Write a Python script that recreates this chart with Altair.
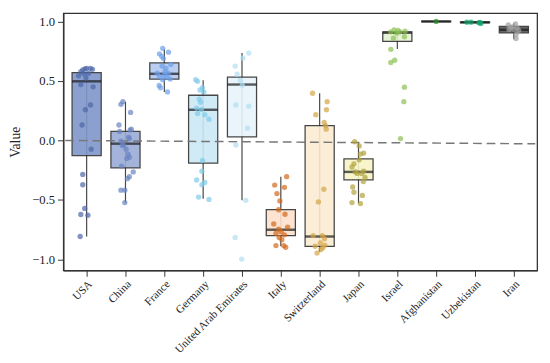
import altair as alt
import pandas as pd

countries = ["USA", "China", "France", "Germany", "United Arab Emirates", "Italy",
             "Switzerland", "Japan", "Israel", "Afghanistan", "Uzbekistan", "Iran"]

# box statistics
q1 = [-0.128, -0.231, 0.516, -0.190, 0.030, -0.799, -0.889, -0.332, 0.832, 0.998, 0.989, 0.904]
median = [0.497, -0.027, 0.560, 0.258, 0.470, -0.750, -0.807, -0.264, 0.905, 1.0, 0.993, 0.930]
q3 = [0.570, 0.076, 0.652, 0.380, 0.533, -0.582, 0.125, -0.155, 0.912, 1.002, 0.996, 0.958]
whisker_low = [-0.807, -0.522, 0.408, -0.489, -0.503, -0.889, -0.938, -0.530, 0.769, 1.0, 0.99, 0.850]
whisker_high = [0.570, 0.326, 0.769, 0.505, 0.734, -0.304, 0.397, -0.019, 0.912, 1.0, 0.995, 0.985]

box_fill = ["#7f96c9", "#9aabd6", "#b3c9f0", "#cce9f5", "#e7f4fb", "#fde0cc",
            "#fbecd2", "#f8f5c8", "#e4f2d2", "#cfe8c0", "#c0e8d8", "#555555"]
point_color = ["#4d66a6", "#6a83c2", "#6d9fea", "#7fcbea", "#b0def2", "#d2691e",
               "#d4a546", "#b0a23c", "#8cc152", "#2e8b2e", "#13a36b", "#a0a0a0"]

usa_values = [0.543, 0.579, 0.592, 0.601, 0.606, 0.606, 0.598, 0.565, 0.560, 0.524, 0.470,
              0.451, 0.299, 0.258, 0.130, -0.073, -0.285, -0.372, -0.571, -0.622, -0.628, -0.807]
usa_offsets = [-8.3, -6, -4, -1.7, 0, 4, 6, 2, -2.7, -0.7, -6, 6.7, 4, -1.3, -4.7, 4.7,
               -4, -4, -2, -6, 1.3, -6.7]
china_values = [0.326, 0.304, 0.236, 0.130, 0.087, 0.076, 0.095, 0.027, -0.005, -0.038, -0.043,
                0.016, -0.073, -0.114, -0.141, -0.152, -0.215, -0.264, -0.304, -0.321, -0.418,
                -0.418, -0.522]
china_offsets = [-2.7, -4.7, 5.3, -6.7, 4.7, -6, 6, 3.3, -4.7, -2, -3.3, 4, 0.7, 2.7, 4, 1.3,
                 -4, 8, 4, 2, -4.7, -0.7, -0.7]
france_values = [0.774, 0.742, 0.728, 0.707, 0.688, 0.639, 0.625, 0.606, 0.565, 0.579, 0.565,
                 0.552, 0.533, 0.538, 0.516, 0.511, 0.462, 0.443, 0.408]
france_offsets = [-1.7, 4.3, -5, -2.7, -1, 6.7, -2.3, 1.7, -7.3, 0.7, 4, 0, 2.7, -5, 6, -1.7,
                  -5.3, -4, 3.3]
germany_values = [0.511, 0.497, 0.443, 0.424, 0.408, 0.348, 0.321, 0.272, 0.261, 0.226, 0.217,
                  0.179, -0.168, -0.258, -0.332, -0.353, -0.372, -0.476, -0.495]
germany_offsets = [-7.7, -5.7, -0.7, -3.3, 0.7, -4, -2.7, -6.7, -1.7, -5.7, 1.7, 6, -0.7, -1.3,
                   -6.7, 1.7, -1.3, -4.7, 6]
uae_values = [0.734, 0.693, 0.625, 0.557, 0.505, 0.465, 0.299, 0.288, 0.103, -0.038, -0.503,
              -0.815, -0.997]
uae_offsets = [7, 1, -7, -5, -1.7, 0.3, -6.3, 7, 5.7, -6.3, 4, -7, -0.3]
italy_values = [-0.304, -0.375, -0.394, -0.446, -0.508, -0.582, -0.620, -0.701, -0.728, -0.745,
                -0.766, -0.780, -0.793, -0.815, -0.834, -0.883, -0.883, -0.897]
italy_offsets = [6, -6.3, 3.7, -4, -1, -2.3, 4.3, -7.3, 7, -2.3, 0.3, -5, 3.7, -1.7, 1, -5, 3, 5]
swiss_values = [0.397, 0.326, 0.258, 0.217, 0.152, 0.125, 0.095, -0.410, -0.516, -0.799, -0.799,
                -0.826, -0.861, -0.880, -0.889, -0.902, -0.916, -0.946]
swiss_offsets = [-7.3, 7.7, 7, -4, 4.7, 6, 6.7, 4.3, -1.3, -6.7, 2.7, 5, 0.7, 5.3, -4.7, 3.3,
                 1.3, -2.7]
japan_values = [-0.011, -0.046, -0.106, -0.114, -0.163, -0.196, -0.223, -0.277, -0.258, -0.277,
                -0.264, -0.310, -0.345, -0.391, -0.435, -0.462, -0.522, -0.530]
japan_offsets = [-4, 0.7, 5.3, 2, 0.7, -4.7, -6.7, -1.3, 5.3, 3.3, -3.3, 6.7, 5, -6, -4.7, 4,
                 -6.7, 2]
israel_values = [0.913, 0.929, 0.924, 0.913, 0.918, 0.902, 0.859, 0.872, 0.766, 0.655, 0.674,
                 0.448, 0.326, 0.016]
israel_offsets = [-6.7, -3.3, 0.7, 2.7, 8, -0.7, -4, 7.3, -6.7, -6.7, -2.7, 7.3, 6.7, 3.3]
afghanistan_values = [1.0]
afghanistan_offsets = [0]
uzbekistan_values = [0.994, 0.994, 0.989, 0.983, 0.992]
uzbekistan_offsets = [-8.3, -4, 4, 6, 5.3]
iran_values = [0.972, 0.980, 0.945, 0.945, 0.891, 0.856, 0.932, 0.925, 0.955, 0.935]
iran_offsets = [-5.7, 1.7, -3.3, 3.3, 2.3, 2.3, -5, 5, -1.7, 0]

ref_line_start = 0.0
ref_line_end = -0.028

all_values = [usa_values, china_values, france_values, germany_values, uae_values, italy_values,
              swiss_values, japan_values, israel_values, afghanistan_values, uzbekistan_values,
              iran_values]
all_offsets = [usa_offsets, china_offsets, france_offsets, germany_offsets, uae_offsets,
               italy_offsets, swiss_offsets, japan_offsets, israel_offsets, afghanistan_offsets,
               uzbekistan_offsets, iran_offsets]

rows = []
for c, vals, offs in zip(countries, all_values, all_offsets):
    for v, o in zip(vals, offs):
        rows.append({"country": c, "value": v, "offset": o})
points_df = pd.DataFrame(rows)

box_df = pd.DataFrame({"country": countries, "q1": q1, "median": median, "q3": q3,
                       "lo": whisker_low, "hi": whisker_high})
line_df = pd.DataFrame({"y": [ref_line_start], "y2": [ref_line_end]})

FONT = "Times New Roman, Liberation Serif, serif"
W, H = 488, 265

x_enc = alt.X("country:N", sort=countries, title=None,
              scale=alt.Scale(paddingInner=0, paddingOuter=0.1),
              axis=alt.Axis(labelAngle=-45, labelFontSize=11.5, labelFont=FONT,
                            labelColor="#222", tickSize=6, labelPadding=2))
y_scale = alt.Scale(domain=[-1.092, 1.07], nice=False, zero=False)
y_axis = alt.Axis(values=[-1.0, -0.5, 0.0, 0.5, 1.0], format=".1f", labelFontSize=13,
                  labelFont=FONT, labelColor="#222", title="Value", titleFont=FONT,
                  titleFontSize=14, titleFontWeight="normal", titleColor="#222",
                  tickSize=6, grid=False, titlePadding=10, labelPadding=3)

fill_scale = alt.Scale(domain=countries, range=box_fill)
pt_scale = alt.Scale(domain=countries, range=point_color)

whiskers = alt.Chart(box_df).mark_rule(color="#444", strokeWidth=1.2).encode(
    x=x_enc,
    y=alt.Y("lo:Q", scale=y_scale, axis=y_axis),
    y2="hi:Q",
)
boxes = alt.Chart(box_df).mark_bar(size=30, stroke="#333", strokeWidth=1.3, opacity=0.9).encode(
    x=x_enc,
    y=alt.Y("q1:Q", scale=y_scale, axis=y_axis),
    y2="q3:Q",
    fill=alt.Fill("country:N", scale=fill_scale, legend=None),
)
medians = alt.Chart(box_df).mark_tick(size=30, thickness=2.5, color="#1a1a1a").encode(
    x=x_enc,
    y=alt.Y("median:Q", scale=y_scale, axis=y_axis),
)
ref_line = alt.Chart(line_df).mark_rule(color="#777", strokeWidth=1.5, strokeDash=[9, 5]).encode(
    x=alt.value(2),
    x2=alt.value(W - 2),
    y=alt.Y("y:Q", scale=y_scale, axis=y_axis),
    y2="y2:Q",
)
pts = alt.Chart(points_df).mark_circle(size=30, opacity=0.7).encode(
    x=x_enc,
    xOffset=alt.XOffset("offset:Q", scale=alt.Scale(domain=[-20, 20])),
    y=alt.Y("value:Q", scale=y_scale, axis=y_axis),
    color=alt.Color("country:N", scale=pt_scale, legend=None),
)

chart = alt.layer(whiskers, boxes, ref_line, medians, pts).resolve_scale(
    color="independent", fill="independent"
).properties(
    width=W, height=H, padding={"left": 0, "top": 0, "right": 5, "bottom": 0},
    background="white",
).configure_view(stroke="#333", strokeWidth=1.3).configure_axis(
    domainColor="#333", tickColor="#333", domainWidth=1.3
)

chart.save("out.html", embed_options={"renderer": "svg", "actions": False})
